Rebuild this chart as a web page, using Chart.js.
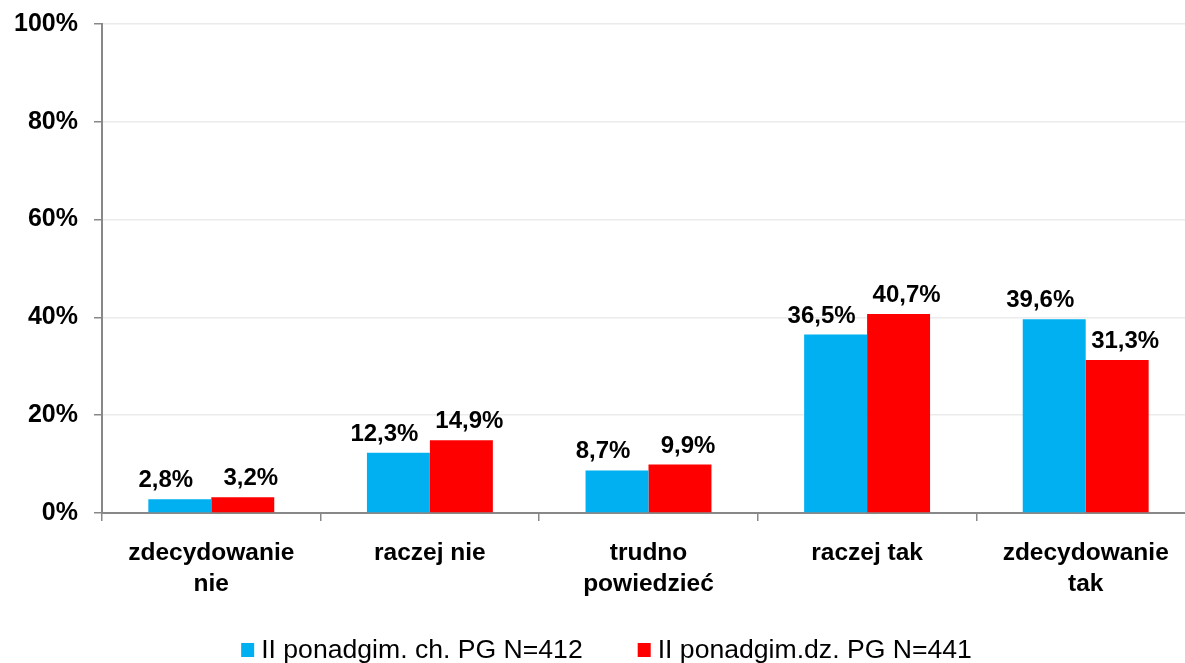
<!DOCTYPE html>
<html>
<head>
<meta charset="utf-8">
<script src="https://cdn.jsdelivr.net/npm/chart.js@4"></script>
<style>
  html, body { margin: 0; padding: 0; background: #fff; overflow: hidden; }
  #wrap { width: 1200px; height: 663px; position: relative; }
</style>
</head>
<body>
<div id="wrap"><canvas id="c"></canvas></div>
<script>
const categories = [["zdecydowanie", "nie"], "raczej nie", ["trudno", "powiedzieć"], "raczej tak", ["zdecydowanie", "tak"]];
const seriesNames = ["II ponadgim. ch. PG N=412", "II ponadgim.dz. PG N=441"];
const valuesCh = [2.8, 12.3, 8.7, 36.5, 39.6];
const valuesDz = [3.2, 14.9, 9.9, 40.7, 31.3];
const yTicks = [0, 20, 40, 60, 80, 100];

const FONT = "'Liberation Sans', Arial, sans-serif";
const colors = ["#00B0F0", "#FF0000"];
const labelShift = [-14, 8];

const valueLabels = {
  id: 'valueLabels',
  afterDatasetsDraw(chart) {
    const ctx = chart.ctx;
    ctx.save();
    ctx.font = "bold 24px " + FONT;
    ctx.fillStyle = "#000";
    ctx.textAlign = "center";
    ctx.textBaseline = "alphabetic";
    chart.data.datasets.forEach((ds, i) => {
      const meta = chart.getDatasetMeta(i);
      meta.data.forEach((bar, j) => {
        const v = ds.data[j];
        const txt = v.toFixed(1).replace('.', ',') + '%';
        ctx.fillText(txt, bar.x + labelShift[i], bar.y - 12);
      });
    });
    ctx.restore();
  }
};

const customLegend = {
  id: 'customLegend',
  afterDraw(chart) {
    const ctx = chart.ctx;
    ctx.save();
    ctx.font = "26.6px " + FONT;
    ctx.textBaseline = "middle";
    ctx.textAlign = "left";
    const box = 13, gap = 7, spacing = 55;
    const widths = seriesNames.map(n => box + gap + ctx.measureText(n).width);
    const total = widths.reduce((a, b) => a + b, 0) + spacing * (widths.length - 1);
    let x = 1185 / 2 - total / 2 + 14;
    const yc = 651;
    seriesNames.forEach((n, i) => {
      ctx.fillStyle = colors[i];
      ctx.fillRect(x, yc - 8, box, 14);
      ctx.fillStyle = "#000";
      ctx.fillText(n, x + box + gap, yc);
      x += widths[i] + spacing;
    });
    ctx.restore();
  }
};

new Chart(document.getElementById('c'), {
  type: 'bar',
  data: {
    labels: categories,
    datasets: [
      { label: seriesNames[0], data: valuesCh, backgroundColor: colors[0], borderWidth: 0 },
      { label: seriesNames[1], data: valuesDz, backgroundColor: colors[1], borderWidth: 0 }
    ]
  },
  options: {
    responsive: true,
    maintainAspectRatio: false,
    animation: false,
    layout: { padding: { top: 24, right: 5, left: 0, bottom: 0 } },
    datasets: { bar: { categoryPercentage: 0.576, barPercentage: 1.0 } },
    plugins: { legend: { display: false }, tooltip: { enabled: false } },
    scales: {
      x: {
        grid: { display: true, drawOnChartArea: false, drawTicks: true, tickLength: 8, color: '#888', lineWidth: 1.5, offset: true },
        border: { display: true, color: '#888', width: 2 },
        ticks: {
          color: '#000',
          font: { family: FONT, size: 24.5, weight: 'bold', lineHeight: 1.27 },
          padding: 17,
          maxRotation: 0,
          autoSkip: false
        },
        afterFit(scale) { scale.height = 150; }
      },
      y: {
        min: 0, max: 100,
        afterBuildTicks(scale) { scale.ticks = yTicks.map(v => ({ value: v })); },
        grid: { color: '#ebebeb', lineWidth: 1.5, tickColor: '#888', tickLength: 8, drawTicks: true },
        border: { display: true, color: '#888', width: 2 },
        ticks: {
          color: '#000',
          font: { family: FONT, size: 25, weight: 'bold' },
          padding: 16,
          callback: v => v + '%'
        },
        afterFit(scale) { scale.width = 102; scale.paddingTop = 4; scale.paddingBottom = 4; }
      }
    }
  },
  plugins: [valueLabels, customLegend]
});
</script>
</body>
</html>
